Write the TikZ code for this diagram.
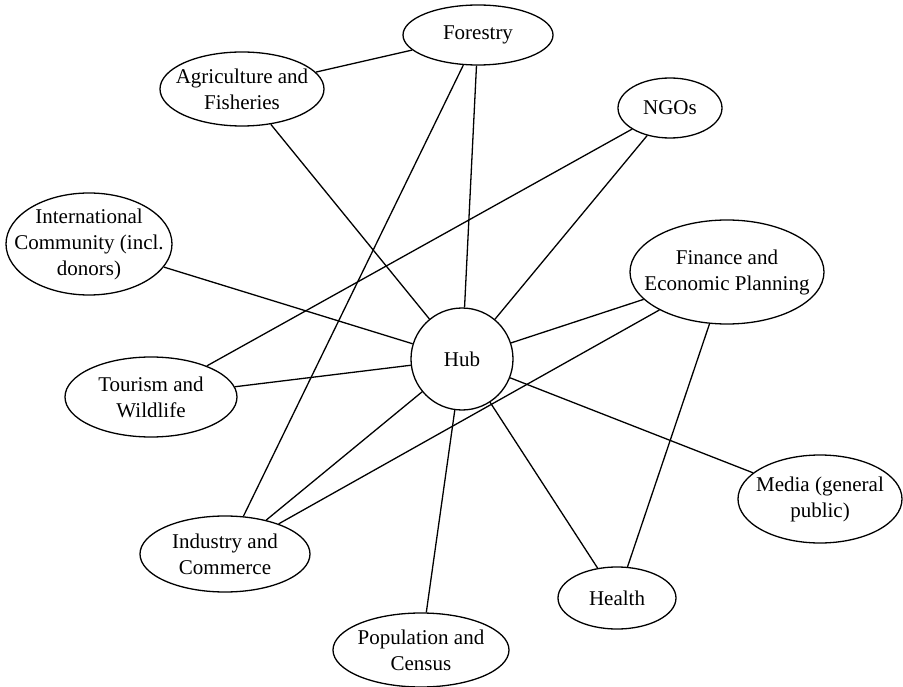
\documentclass[tikz,border=0pt]{standalone}
\usepackage{fontspec}
\setmainfont{Liberation Serif}
\usetikzlibrary{shapes.geometric}
\begin{document}
\begin{tikzpicture}[x=1pt,y=-1pt,
  sector/.style={ellipse,draw,line width=1.3pt,inner xsep=-60pt,inner ysep=-30pt,
    align=center,font=\fontsize{21}{26}\selectfont},
  hubnode/.style={circle,draw,line width=1.3pt,inner sep=0pt,minimum size=102pt,
    font=\fontsize{21}{26}\selectfont},
  link/.style={line width=1.3pt}]
\useasboundingbox[fill=white] (0,0) rectangle (903,687);

% central hub
\node[hubnode] (hub) at (462,359) {Hub};

% surrounding sectors
\node[sector,minimum width=150pt,minimum height=60pt] (forestry) at (478,35) {Forestry};
\node[sector,minimum width=164pt,minimum height=74pt] (agri) at (242,89) {Agriculture and\\Fisheries};
\node[sector,minimum width=104pt,minimum height=60pt] (ngos) at (670,108) {NGOs};
\node[sector,minimum width=166pt,minimum height=102pt] (intl) at (89,244) {International\\Community (incl.\\donors)};
\node[sector,minimum width=194pt,minimum height=104pt] (fin) at (727,272) {Finance and\\Economic Planning};
\node[sector,minimum width=172pt,minimum height=80pt] (tour) at (151,397) {Tourism and\\Wildlife};
\node[sector,minimum width=170pt,minimum height=76pt] (ind) at (225,554) {Industry and\\Commerce};
\node[sector,minimum width=176pt,minimum height=74pt] (pop) at (421,650) {Population and\\Census};
\node[sector,minimum width=164pt,minimum height=88pt] (media) at (820,499) {Media (general\\public)};
\node[sector,minimum width=118pt,minimum height=62pt] (health) at (617,598) {Health};

% links to the hub
\draw[link] (agri) -- (hub);
\draw[link] (forestry) -- (hub);
\draw[link] (ngos) -- (hub);
\draw[link] (intl) -- (hub);
\draw[link] (fin) -- (hub);
\draw[link] (tour) -- (hub);
\draw[link] (ind) -- (hub);
\draw[link] (pop) -- (hub);
\draw[link] (health) -- (hub);
\draw[link] (media) -- (hub);

% links between sectors
\draw[link] (agri) -- (forestry);
\draw[link] (forestry) -- (ind);
\draw[link] (ngos) -- (tour);
\draw[link] (fin) -- (ind);
\draw[link] (fin) -- (health);
\end{tikzpicture}
\end{document}
